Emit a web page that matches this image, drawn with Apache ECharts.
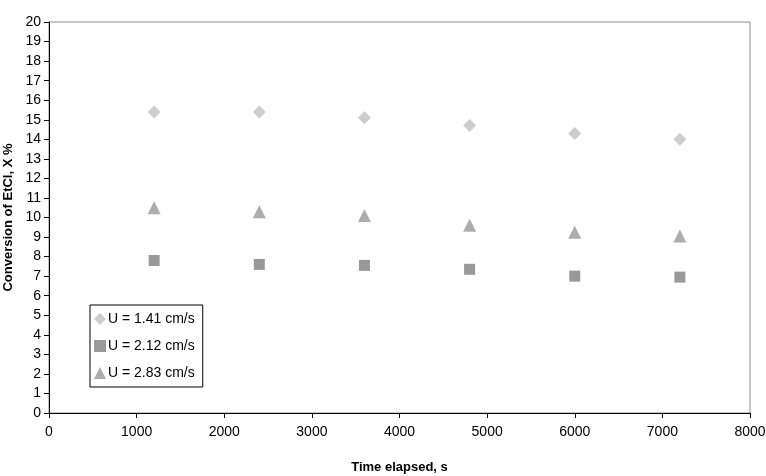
<!DOCTYPE html>
<html>
<head>
<meta charset="utf-8">
<script src="https://cdn.jsdelivr.net/npm/echarts@6/dist/echarts.min.js"></script>
<style>
  html, body { margin: 0; padding: 0; background: #fff; }
  #chart { width: 766px; height: 476px; }
</style>
</head>
<body>
<div id="chart"></div>
<script>
// time points (s) and conversion (%)
var times = [1200, 2400, 3600, 4800, 6000, 7200];
var conv141 = [15.4, 15.4, 15.1, 14.7, 14.3, 14.0];
var conv212 = [7.8, 7.6, 7.55, 7.35, 7.0, 6.95];
var conv283 = [10.5, 10.3, 10.1, 9.6, 9.25, 9.05];
var seriesNames = ['U = 1.41 cm/s', 'U = 2.12 cm/s', 'U = 2.83 cm/s'];

function pairs(ys) {
  return times.map(function (t, i) { return [t, ys[i]]; });
}

var diamond = 'path://M5,0 L10,5 L5,10 L0,5 Z';
var myChart = echarts.init(document.getElementById('chart'));

var option = {
  animation: false,
  textStyle: { fontFamily: 'Liberation Sans, Arial, sans-serif' },
  grid: {
    left: 49, right: 16, top: 22, bottom: 63,
    containLabel: false,
    outerBoundsMode: 'none',
    show: true, borderColor: '#8c8c8c', borderWidth: 1
  },
  legend: {
    orient: 'vertical',
    left: 90, top: 305,
    width: 111,
    data: seriesNames,
    itemWidth: 12, itemHeight: 12,
    itemGap: 13,
    padding: [7, 8, 7, 4],
    borderColor: '#000', borderWidth: 1,
    textStyle: { fontSize: 14, color: '#000', padding: [0, 0, 0, -3] }
  },
  xAxis: {
    type: 'value',
    min: 0, max: 8000, interval: 1000,
    name: 'Time elapsed, s',
    nameLocation: 'middle',
    nameGap: 48,
    nameTextStyle: { fontSize: 13, fontWeight: 'bold', color: '#000' },
    axisLine: { lineStyle: { color: '#000' } },
    axisTick: { inside: false, length: 5, lineStyle: { color: '#000' } },
    axisLabel: {
      fontSize: 14, color: '#000', margin: 12,
      formatter: function (v) { return String(v); }
    },
    splitLine: { show: false }
  },
  yAxis: {
    type: 'value',
    min: 0, max: 20, interval: 1,
    name: 'Conversion of EtCl, X %',
    nameLocation: 'middle',
    nameGap: 32,
    nameTextStyle: { fontSize: 13, fontWeight: 'bold', color: '#000' },
    axisLine: { show: true, lineStyle: { color: '#000' } },
    axisTick: { show: true, length: 5, lineStyle: { color: '#000' } },
    axisLabel: { fontSize: 14, color: '#000', margin: 8 },
    splitLine: { show: false }
  },
  series: [
    {
      name: seriesNames[0], type: 'scatter',
      symbol: diamond, symbolSize: 13,
      itemStyle: { color: '#c0c0c0' },
      data: pairs(conv141)
    },
    {
      name: seriesNames[1], type: 'scatter',
      symbol: 'rect', symbolSize: 11,
      itemStyle: { color: '#808080' },
      data: pairs(conv212)
    },
    {
      name: seriesNames[2], type: 'scatter',
      symbol: 'triangle', symbolSize: 13,
      itemStyle: { color: '#999999' },
      data: pairs(conv283)
    }
  ]
};

myChart.setOption(option);
</script>
</body>
</html>
